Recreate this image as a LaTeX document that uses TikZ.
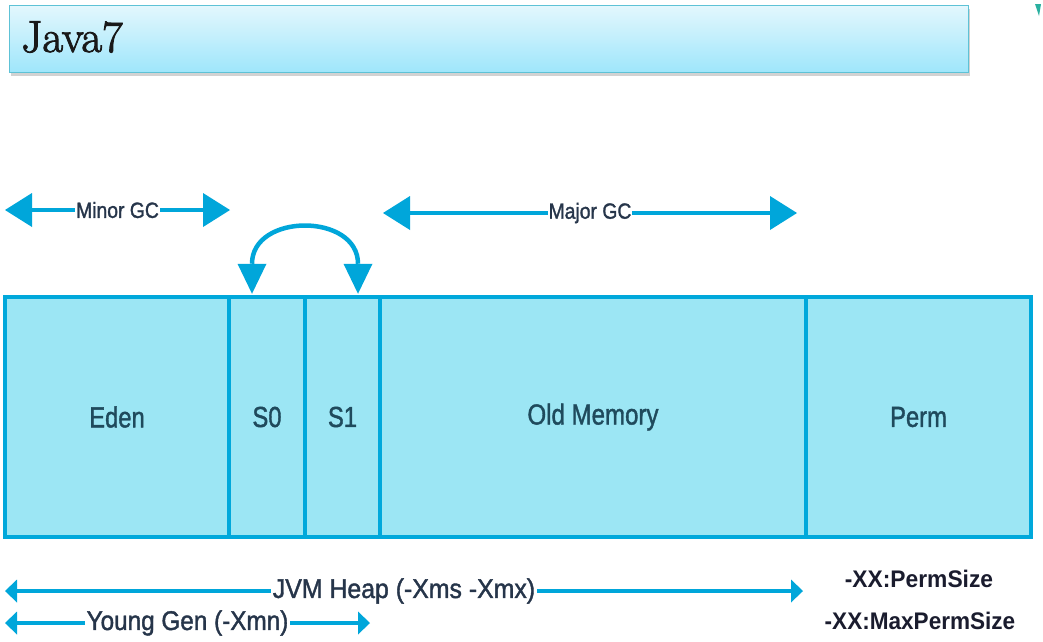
\documentclass[tikz,border=0pt]{standalone}
\usepackage{fontspec}
\usepackage{graphicx}
\setsansfont{Liberation Sans}
\newfontfamily\lsans{Liberation Sans}[RawFeature={embolden=1.5}]
\newfontfamily\lserif{Latin Modern Roman}[RawFeature={embolden=2}]
\usetikzlibrary{arrows.meta,shadows}
\definecolor{boxfill}{HTML}{9CE6F4}
\definecolor{boxline}{HTML}{00A8DB}
\definecolor{arrowc}{HTML}{00A6DA}
\definecolor{lbl}{HTML}{1F4A5C}
\definecolor{arrlbl}{HTML}{26354A}
\definecolor{permlbl}{HTML}{1A1C2E}
\definecolor{titletop}{HTML}{E3F7FD}
\definecolor{titlebot}{HTML}{9EE6FB}
\definecolor{titleline}{HTML}{5EC2D6}
\definecolor{markc}{HTML}{2AB0A0}
\newcommand\sqz[2]{\scalebox{#1}[1]{#2}}
\begin{document}
\begin{tikzpicture}[x=1pt,y=-1pt,
  mem/.style={draw=boxline, fill=boxfill, line width=4.5pt, minimum height=240pt, inner sep=0pt, text=lbl, font=\lsans\fontsize{29}{30}\selectfont},
  bigarrow/.style={draw=arrowc, line width=4.5pt, {Triangle[length=27pt,width=34pt,line width=0pt]}-{Triangle[length=27pt,width=34pt,line width=0pt]}},
  curvearrow/.style={draw=arrowc, line width=4.5pt, {Triangle[length=30pt,width=29pt,line width=0pt]}-{Triangle[length=30pt,width=29pt,line width=0pt]}},
  smallarrow/.style={draw=arrowc, line width=4pt, {Triangle[length=12pt,width=23pt,line width=0pt]}-{Triangle[length=12pt,width=23pt,line width=0pt]}},
  gclabel/.style={fill=white, inner xsep=1pt, inner ysep=2pt, text=arrlbl, font=\lsans\fontsize{22}{24}\selectfont},
  heaplabel/.style={fill=white, inner xsep=1.5pt, inner ysep=1pt, text=arrlbl, font=\lsans\fontsize{27}{28}\selectfont},
  permlabel/.style={inner sep=0pt, text=permlbl, font=\sffamily\bfseries\fontsize{24}{26}\selectfont},
  titlebox/.style={draw=titleline, line width=1.2pt, top color=titletop, bottom color=titlebot, inner sep=0pt, drop shadow={shadow xshift=1pt, shadow yshift=-3pt, opacity=0.35}}
]
\useasboundingbox (0,0) rectangle (1043,641);
\fill[white] (0,0) rectangle (1043,641);

% title
\node[titlebox, anchor=north west, minimum width=959pt, minimum height=67pt] (title) at (9,5) {};
\node[anchor=base west, inner sep=0pt, text=black!90, font=\lserif\fontsize{45}{48}\selectfont] (jt) at (21,52) {Java7};
\fill[markc] (1035,4) -- (1041,4) -- (1039,16) -- cycle;

% memory boxes
\node[mem, minimum width=224pt] (eden) at (117,417) {\sqz{0.82}{Eden}};
\node[mem, minimum width=76pt] (s0) at (267,417) {\sqz{0.82}{S0}};
\node[mem, minimum width=75pt] (s1) at (342.5,417) {\sqz{0.82}{S1}};
\node[mem, minimum width=426pt] (old) at (593,417) {\sqz{0.83}{Old Memory}};
\node[mem, minimum width=225pt] (perm) at (918.5,417) {\sqz{0.82}{Perm}};

% GC arrows
\coordinate (mnL) at (5,210);
\coordinate (mnR) at (230,210);
\draw[bigarrow] (mnL) -- node[gclabel] (mnt) {\sqz{0.88}{Minor GC}} (mnR);
\coordinate (mjL) at (383,213);
\coordinate (mjR) at (797,213);
\draw[bigarrow] (mjL) -- node[gclabel] (mjt) {\sqz{0.88}{Major GC}} (mjR);

% survivor swap arrow
\draw[curvearrow] ([xshift=-15pt,yshift=1pt]s0.north) .. controls ([xshift=-15pt,yshift=82pt]s0.north) and ([xshift=15.5pt,yshift=82pt]s1.north) .. ([xshift=15.5pt,yshift=1pt]s1.north);

% heap arrows
\coordinate (hpL) at (5,591);
\coordinate (hpR) at (803,591);
\draw[smallarrow] (hpL) -- node[heaplabel] (hpt) {\sqz{0.92}{JVM Heap (-Xms -Xmx)}} (hpR);
\coordinate (ygL) at (5,623);
\coordinate (ygR) at (370,623);
\draw[smallarrow] (ygL) -- node[heaplabel] (ygt) {\sqz{0.9}{Young Gen (-Xmn)}} (ygR);

% perm options
\node[permlabel] (ps) at (919,579) {\sqz{0.95}{-XX:PermSize}};
\node[permlabel] (mps) at (920,621) {\sqz{0.94}{-XX:MaxPermSize}};
\end{tikzpicture}
\end{document}
